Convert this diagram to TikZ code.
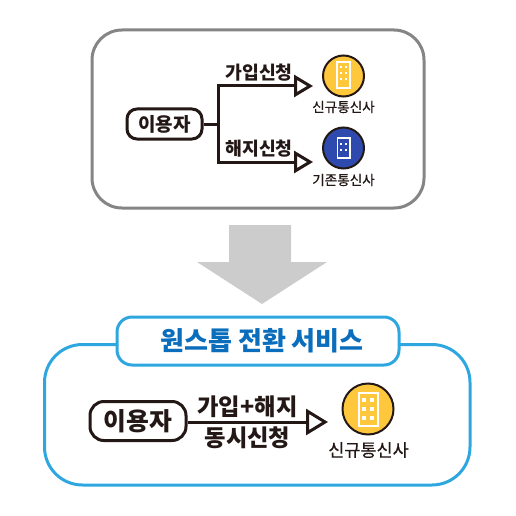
\documentclass[tikz,border=0pt]{standalone}
\usepackage{fontspec}
\setmainfont{Noto Sans CJK KR}
\newfontfamily\midfont[FakeBold=0.4]{Noto Sans CJK KR}
\usetikzlibrary{arrows.meta, positioning, calc}
\definecolor{InkBrown}{HTML}{231815}
\definecolor{BoxGray}{HTML}{858585}
\definecolor{ArrowGray}{HTML}{CCCCCC}
\definecolor{SkyBlue}{HTML}{2EA7E0}
\definecolor{TitleBlue}{HTML}{0A6EBD}
\definecolor{GoldYellow}{HTML}{FFC83C}
\definecolor{RoyalBlue}{HTML}{2F4AAE}
\tikzset{
  graybox/.style={draw=BoxGray, line width=3pt, rounded corners=30pt, fill=white},
  bluebox/.style={draw=SkyBlue, line width=3pt, rounded corners=38pt, fill=white},
  titlebox/.style={draw=SkyBlue, line width=3pt, rounded corners=15pt, fill=white, minimum width=282pt, minimum height=48pt, inner sep=0pt, font=\fontsize{26}{26}\selectfont\bfseries, text=TitleBlue},
  userbox/.style={draw=InkBrown, line width=3pt, rounded corners=10pt, fill=white, inner sep=0pt, text=InkBrown, font=\fontsize{19}{19}\selectfont\bfseries, minimum width=75pt, minimum height=30pt},
  bigbox/.style={userbox, rounded corners=14pt, font=\fontsize{24.8}{24.8}\selectfont\bfseries, minimum width=96pt, minimum height=39pt},
  telco/.style={circle, draw=InkBrown, line width=2pt, inner sep=0pt, minimum size=41pt},
  office/.style={draw=white, line width=1.5pt, fill=none},
  window/.style={fill=white, draw=none},
  label/.style={inner sep=0pt, text=InkBrown, font=\fontsize{18.3}{18.3}\selectfont\bfseries},
  small/.style={inner sep=0pt, text=InkBrown, font=\fontsize{13.6}{13.6}\midfont},
  arrow/.style={-{Triangle[open, fill=white, length=19pt, width=22pt, line width=3pt]}, line width=3pt, draw=InkBrown},
  bigarrow/.style={-{Triangle[open, fill=white, length=22pt, width=26pt, line width=3pt]}, line width=3pt, draw=InkBrown}
}
\begin{document}
\begin{tikzpicture}[x=1pt, y=-1pt]
\useasboundingbox (0,0) rectangle (516,516);
% before
\draw[graybox] (92,30) rectangle (424,208);
\node[userbox] (user) at (164.5,124) {이용자};
\node[telco, fill=GoldYellow] (newco) at (343.5,76) {};
\node[telco, fill=RoyalBlue] (oldco) at (343.5,148) {};
\node[small] (newname) at (343.5,107) {신규통신사};
\node[small] (oldname) at (343.5,180) {기존통신사};
\coordinate (fork) at (218,124);
\coordinate (uptip) at (313,86);
\coordinate (downtip) at (313,162);
\draw[arrow] (user.east) -- (fork) |- (uptip);
\draw[arrow] (fork) |- (downtip);
\node[label] (join) at (259,73) {가입신청};
\node[label] (leave) at (259,149) {해지신청};
% buildings
\draw[office] (337,62) rectangle (350,88);
\foreach \y in {67,73,79} \foreach \x in {341,346}
  \fill[window] (\x-1.4,\y-1.4) rectangle (\x+1.4,\y+1.4);
\draw[office] (337.5,138) rectangle (350,158);
\foreach \y in {144,150} \foreach \x in {341,346}
  \fill[window] (\x-1.4,\y-1.4) rectangle (\x+1.4,\y+1.4);
% gray arrow
\fill[ArrowGray] (229,225) -- (291,225) -- (291,262) -- (327,262) -- (262,304) -- (197,262) -- (229,262) -- cycle;
% after
\draw[bluebox] (44.5,344.5) rectangle (470,485);
\node[titlebox] (title) at (258,341) {\hspace*{8pt}원스톱 전환 서비스};
\node[bigbox] (user2) at (138,421) {이용자};
\node[telco, fill=GoldYellow, minimum size=51pt] (newco2) at (368,409) {};
\node[small, font=\fontsize{17.5}{17.5}\midfont] (newname2) at (368.5,450) {신규통신사};
\coordinate (tip2) at (328,422);
\draw[bigarrow] (user2.east |- tip2) -- (tip2);
\node[label, font=\fontsize{23.3}{23.3}\selectfont\bfseries] (both) at (247.5,407) {가입+해지};
\node[label, font=\fontsize{23.3}{23.3}\selectfont\bfseries] (same) at (247.5,438) {동시신청};
\draw[office, line width=2pt] (358.5,392.5) rectangle (377.5,425.5);
\foreach \y in {400,409,418} \foreach \x in {364,372}
  \fill[window] (\x-2,\y-2) rectangle (\x+2,\y+2);
\end{tikzpicture}
\end{document}
